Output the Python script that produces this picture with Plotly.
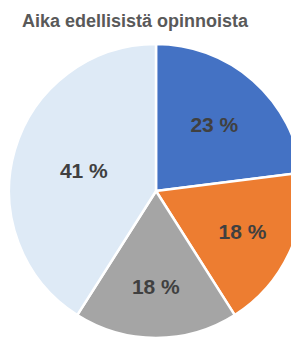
import plotly.graph_objects as go

labels = ["A", "B", "C", "D"]
values = [23, 18, 18, 41]
texts = ["23 %", "18 %", "18 %", "41 %"]
colors = ["#4472C4", "#ED7D31", "#A5A5A5", "#DEEAF6"]
title = "Aika edellisistä opinnoista"

W, H = 303, 338
FONT = "Liberation Sans, Arial, sans-serif"

fig = go.Figure(go.Pie(
    labels=labels, values=values, text=texts,
    textinfo="text", textposition="inside", insidetextorientation="horizontal",
    sort=False, direction="clockwise", rotation=0,
    marker=dict(colors=colors, line=dict(color="white", width=2.5)),
    textfont=dict(family=FONT, size=21, color="#404040", weight="bold"),
    hoverinfo="skip",
))
fig.update_layout(
    width=W, height=H,
    margin=dict(l=9, r=0, t=44, b=0),
    showlegend=False,
    paper_bgcolor="white",
    title=dict(text=title, x=22 / W, xref="container", xanchor="left",
               y=1 - 14 / H, yref="container", yanchor="top",
               font=dict(family=FONT, size=18, color="#595959", weight="bold")),
)
fig.write_html("out.html", config={"displayModeBar": False},
               post_script="document.body.style.overflow='hidden';document.body.style.margin='0';")
